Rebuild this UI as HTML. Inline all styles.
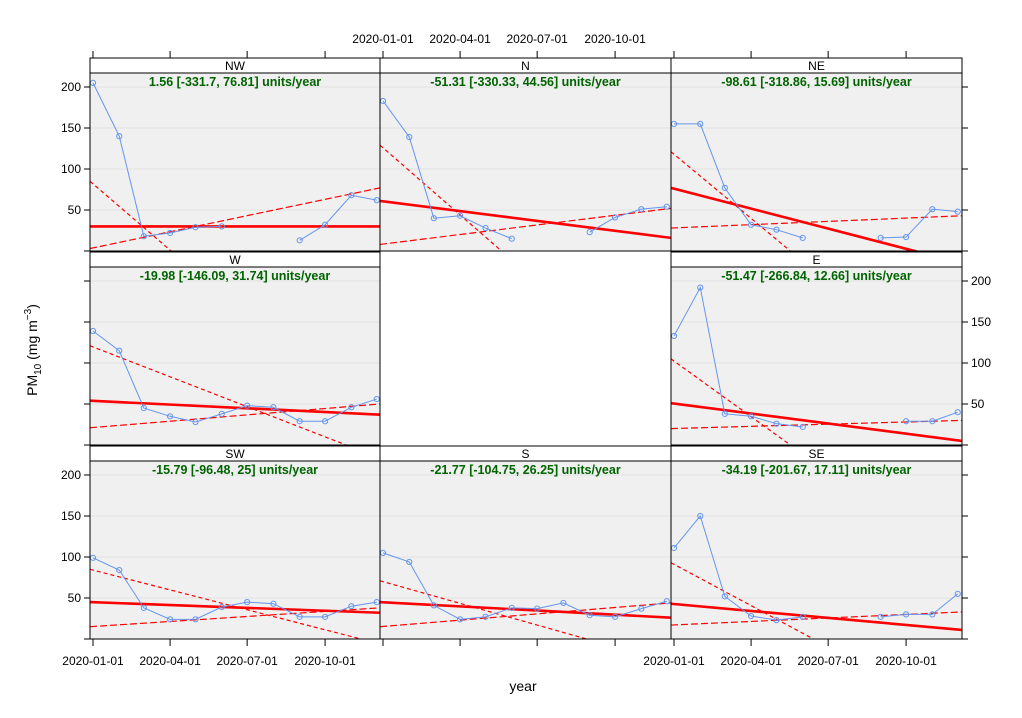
<!DOCTYPE html>
<html><head><meta charset="utf-8"><style>
html,body{margin:0;padding:0;background:#fff;width:1022px;height:718px;overflow:hidden}
svg{display:block;font-family:"Liberation Sans",Arial,sans-serif}
</style></head><body>
<svg id="chart" width="1022" height="718" viewBox="0 0 1022 718" xmlns="http://www.w3.org/2000/svg"></svg>
<script>
const panelNames = ["NW","N","NE","W","","E","SW","S","SE"];
const slopeLabels = ["1.56 [-331.7, 76.81] units/year","-51.31 [-330.33, 44.56] units/year","-98.61 [-318.86, 15.69] units/year","-19.98 [-146.09, 31.74] units/year","","-51.47 [-266.84, 12.66] units/year","-15.79 [-96.48, 25] units/year","-21.77 [-104.75, 26.25] units/year","-34.19 [-201.67, 17.11] units/year"];
const monthDays = [0,31,60,91,121,152,182,213,244,274,305,335];
const valsNW = [205,140,18,22,29,30,null,null,13,32,68,62];
const valsN  = [183,139,40,43,28,15,null,null,23,41,51,54];
const valsNE = [155,155,77,32,26,16,null,null,16,17,51,48];
const valsW  = [139,115,45,35,28,38,48,46,29,29,46,56];
const valsE  = [133,192,38,35,26,22,null,null,null,29,29,40];
const valsSW = [99,84,38,24,24,39,45,43,27,27,40,45];
const valsS  = [105,94,41,24,27,38,37,44,29,27,37,46];
const valsSE = [111,150,52,28,23,27,null,null,27,30,30,55];
const series = [valsNW,valsN,valsNE,valsW,null,valsE,valsSW,valsS,valsSE];
const trendStart = [30,61,77,54,null,51,45,45,43];
const trendEnd   = [30,16,-15,37,null,5,32,26,11];
const upperStart = [85,129,121,121,null,105,85,71,93];
const upperEnd   = [-219,-180,-174,-16,null,-151,-6,-29,-97];
const lowerStart = [3,8,28,21,null,20,15,15,17];
const lowerEnd   = [77,52,43,50,null,30,38,44,33];
const yTicks = [0,50,100,150,200];
const xTickDays = [0,91,182,274];
const xTickLabels = ["2020-01-01","2020-04-01","2020-07-01","2020-10-01"];

const NS="http://www.w3.org/2000/svg";
const svg=document.getElementById('chart');
const colL=[90,380,671], colR=[380,671,962];
function mk(tag,attrs,parent){const e=document.createElementNS(NS,tag);for(const k in attrs)e.setAttribute(k,attrs[k]);(parent||svg).appendChild(e);return e;}
function xS(c,d){return colL[c]+3+d*0.847;}
function yS(r,v){return 251+r*194-0.82*v;}
const defs=mk('defs',{});

for(let i=0;i<9;i++){
  const r=Math.floor(i/3), c=i%3;
  if(!panelNames[i]) continue;
  const top=58+r*194, pTop=top+15, pBot=top+193;
  const g=mk('g',{});
  
  
  const cp=mk('clipPath',{id:'cp'+i},defs);
  mk('rect',{x:colL[c],y:pTop,width:colR[c]-colL[c],height:pBot-pTop},cp);
  const bg=mk('rect',{x:colL[c],y:pTop,width:colR[c]-colL[c],height:pBot-pTop,fill:'#f0f0f0'},g);
  
  
  const cg=mk('g',{'clip-path':'url(#cp'+i+')'},g);
  yTicks.forEach(t=>{if(t>0){const gl=mk('line',{x1:colL[c],x2:colR[c],y1:yS(r,t),y2:yS(r,t),stroke:'#e2e2e2','stroke-width':1},cg);
    
    }});
  const x0=colL[c], x1=colR[c];
  const up=mk('line',{x1:x0,y1:yS(r,upperStart[i]),x2:x1,y2:yS(r,upperEnd[i]),stroke:'#ff0000','stroke-width':1.2,'stroke-dasharray':'4 3'},cg);
  
  
  const lo=mk('line',{x1:x0,y1:yS(r,lowerStart[i]),x2:x1,y2:yS(r,lowerEnd[i]),stroke:'#ff0000','stroke-width':1.2,'stroke-dasharray':'7 3'},cg);
  
  
  const tr=mk('line',{x1:x0,y1:yS(r,trendStart[i]),x2:x1,y2:yS(r,trendEnd[i]),stroke:'#ff0000','stroke-width':2.6},cg);
  
  
  const vals=series[i];
  let seg=[];
  const segs=[];
  vals.forEach((v,m)=>{if(v===null){if(seg.length)segs.push(seg);seg=[];}else seg.push([xS(c,monthDays[m]),yS(r,v)]);});
  if(seg.length)segs.push(seg);
  segs.forEach(s=>{const pl=mk('polyline',{points:s.map(p=>p.join(',')).join(' '),fill:'none',stroke:'#6495ed','stroke-width':1},cg);
    
    });
  vals.forEach((v,m)=>{if(v!==null){const pt=mk('circle',{cx:xS(c,monthDays[m]),cy:yS(r,v),r:2.6,fill:'none',stroke:'#6495ed','stroke-width':1},cg);
    
    }});
  const st=mk('text',{x:(x0+x1)/2,y:pTop+13,'text-anchor':'middle','font-size':'12.5','font-weight':'bold',fill:'#006400'},g);
  st.textContent=slopeLabels[i];
  
  
  mk('rect',{x:x0,y:pTop,width:x1-x0,height:pBot-pTop,fill:'none',stroke:'#000','stroke-width':1},g);
  const sr=mk('rect',{x:x0,y:top,width:x1-x0,height:15,fill:'#fff',stroke:'#000','stroke-width':1},g);
  
  
  const stt=mk('text',{x:(x0+x1)/2,y:top+12,'text-anchor':'middle','font-size':'12',fill:'#000'},g);
  stt.textContent=panelNames[i];
  
  
}
// y axes
for(let r=0;r<3;r++){
  const leftLab=(r!==1), rightLab=(r===1);
  yTicks.forEach(t=>{
    const y=yS(r,t);
    mk('line',{x1:84,x2:90,y1:y,y2:y,stroke:'#000'});
    mk('line',{x1:962,x2:968,y1:y,y2:y,stroke:'#000'});
    if(t>0&&leftLab){const tx=mk('text',{x:81,y:y+4,'text-anchor':'end','font-size':'12'});tx.textContent=t;
      
      }
    if(t>0&&rightLab){const tx=mk('text',{x:971,y:y+4,'text-anchor':'start','font-size':'12'});tx.textContent=t;
      
      }
  });
}
// x axes
for(let c=0;c<3;c++){
  xTickDays.forEach((d,k)=>{
    const x=xS(c,d);
    mk('line',{x1:x,x2:x,y1:639,y2:646,stroke:'#000'});
    mk('line',{x1:x,x2:x,y1:51,y2:58,stroke:'#000'});
    if(c!==1){const tx=mk('text',{x:x,y:665,'text-anchor':'middle','font-size':'12'});tx.textContent=xTickLabels[k];
      
      }
    else{const tx=mk('text',{x:x,y:43,'text-anchor':'middle','font-size':'12'});tx.textContent=xTickLabels[k];
      
      }
  });
}
const xt=mk('text',{x:523,y:691,'text-anchor':'middle','font-size':'14'});
xt.textContent='year';


const yt=mk('text',{x:0,y:0,'text-anchor':'middle','font-size':'14',transform:'translate(37,350) rotate(-90)'});


yt.innerHTML='PM<tspan font-size="10" dy="4">10</tspan><tspan dy="-4"> (mg m</tspan><tspan font-size="10" dy="-6">−3</tspan><tspan dy="6">)</tspan>';
</script>
</body></html>
